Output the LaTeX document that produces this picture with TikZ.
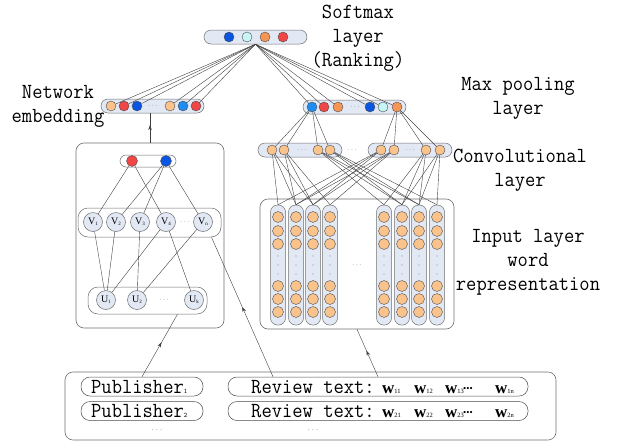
\documentclass[tikz,border=0pt]{standalone}
\usepackage{fontspec}
\setmainfont{Liberation Serif}
\newfontfamily\lab[FakeStretch=0.93]{Latin Modern Mono}
\usetikzlibrary{decorations.markings,arrows.meta}
\definecolor{barfill}{RGB}{226,233,245}
\definecolor{edgegray}{RGB}{110,110,110}
\definecolor{cblue}{RGB}{10,85,225}
\definecolor{ccyan}{RGB}{200,245,245}
\definecolor{corange}{RGB}{245,150,85}
\definecolor{cred}{RGB}{240,70,70}
\definecolor{clorange}{RGB}{250,195,140}
\definecolor{cdblue}{RGB}{30,140,240}
\newcommand\vsub[2]{#1\raisebox{-1pt}{\fontsize{5}{5}\selectfont #2}}
\newcommand\psub[1]{\raisebox{0pt}{\fontsize{7}{7}\selectfont #1}}
\newcommand\wtok[1]{{\fontsize{17}{17}\selectfont\bfseries w}{\fontsize{6.5}{6.5}\selectfont #1}}
\begin{document}
\begin{tikzpicture}[x=1pt,y=-1pt,
  xbar/.style={draw=edgegray, fill=barfill, rounded corners=7pt, minimum height=14pt, inner sep=0pt, line width=0.5pt},
  xdot/.style={circle, draw=black!70, minimum size=10pt, inner sep=0pt, line width=0.4pt},
  xv/.style={circle, draw=edgegray, fill=barfill, minimum size=19pt, inner sep=0pt, line width=0.5pt, font=\fontsize{10}{10}\selectfont},
  xbox/.style={draw=edgegray, rounded corners=8pt, line width=0.6pt, inner sep=0pt},
  xwbar/.style={draw=edgegray, fill=white, rounded corners=10pt, line width=0.5pt, inner sep=0pt},
  xcol/.style={draw=edgegray, fill=barfill, rounded corners=7pt, minimum width=15pt, minimum height=120pt, inner sep=0pt, line width=0.5pt},
  xpill/.style={draw=black!70, rounded corners=9pt, minimum height=19pt, inner sep=0pt, line width=0.5pt},
  xtiny/.style={circle, fill=black!45, minimum size=1.2pt, inner sep=0pt},
  xdots/.style={inner sep=0pt, text=black!60, font=\fontsize{7}{7}\selectfont},
  xlink/.style={draw=black!75, line width=0.4pt},
  xlbl/.style={font=\lab\fontsize{21.5}{24}\selectfont, align=center, inner sep=0pt},
  xtxt/.style={font=\lab\fontsize{21.5}{24}\selectfont, inner sep=0pt},
  midarrow/.style={decoration={markings, mark=at position #1 with {\arrow{Stealth[length=5pt,width=3.5pt]}}}, postaction={decorate}}
]
\useasboundingbox (0,0) rectangle (618,445);

% ---------- labels ----------
\node[xlbl] (lsoft) at (358,38) {Softmax\\layer\\(Ranking)};
\node[xlbl] (lnet) at (58,106) {Network\\embedding};
\node[xlbl] (lmax) at (518,98) {Max pooling\\layer};
\node[xlbl] (lconv) at (520,170) {Convolutional\\layer};
\node[xlbl] (linput) at (528,262) {Input layer\\word\\representation};

% ---------- softmax ----------
\node[xbar, minimum width=103pt] (smbar) at (255.5,37) {};
\node[xdot, fill=cblue] (s1) at (229,37) {};
\node[xdot, fill=ccyan] (s2) at (247,37) {};
\node[xdot, fill=corange] (s3) at (265,37) {};
\node[xdot, fill=cred] (s4) at (283,37) {};

% ---------- network embedding bar ----------
\node[xbar, minimum width=103pt] (emb) at (152.5,106) {};
\node[xdot, fill=clorange] (e1) at (111,106) {};
\node[xdot, fill=cred] (e2) at (124,106) {};
\node[xdot, fill=cblue] (e3) at (137,106) {};
\node[xdots] (edots) at (153,106) {$\cdots$};
\node[xdot, fill=clorange] (e4) at (170,106) {};
\node[xdot, fill=cdblue] (e5) at (183,106) {};
\node[xdot, fill=cred] (e6) at (196,106) {};

% ---------- max pooling bar ----------
\node[xbar, minimum width=103pt] (mp) at (354.5,107) {};
\node[xdot, fill=cdblue] (m1) at (312,107) {};
\node[xdot, fill=cred] (m2) at (324,107) {};
\node[xdot, fill=corange] (m3) at (338,107) {};
\node[xdots] (mdots) at (355,107) {$\cdots$};
\node[xdot, fill=cblue] (m4) at (370,107) {};
\node[xdot, fill=ccyan] (m5) at (383,107) {};
\node[xdot, fill=corange] (m6) at (397,107) {};

\foreach \n in {e1,e2,e3,e4,e5,e6,m1,m2,m3,m4,m5,m6}
  \draw[xlink] (smbar.south) -- (\n);

% ---------- convolutional bars ----------
\node[xbar, minimum width=84pt] (cvl) at (300,150) {};
\node[xdot, fill=clorange] (cl1) at (272,150) {};
\node[xdot, fill=clorange] (cl2) at (284,150) {};
\node[xdots] (cldots) at (302,150) {$\cdots$};
\node[xdot, fill=clorange] (cl3) at (318,150) {};
\node[xdot, fill=clorange] (cl4) at (330,150) {};
\node[xdots] (cvdots) at (352,150) {$\cdots$};
\node[xbar, minimum width=84pt] (cvr) at (410,150) {};
\node[xdot, fill=clorange] (cr1) at (381,150) {};
\node[xdot, fill=clorange] (cr2) at (394,150) {};
\node[xdots] (crdots) at (410,150) {$\cdots$};
\node[xdot, fill=clorange] (cr3) at (426,150) {};
\node[xdot, fill=clorange] (cr4) at (440,150) {};

\foreach \n in {cl1,cl2,cl3,cl4} \draw[xlink] (m1) -- (\n);
\foreach \n in {cr1,cr2,cr3,cr4} \draw[xlink] (m6) -- (\n);

% ---------- input layer ----------
\node[xbox, minimum width=194pt, minimum height=130pt] (inbox) at (357,264) {};
\foreach \i/\x in {1/278,2/296,3/313,4/330,5/384,6/402,7/419,8/437} {
  \node[xcol] (col\i) at (\x,265) {};
  \foreach \j/\y in {1/217,2/231,3/244,4/286,5/299,6/312}
    \node[xdot, fill=clorange, minimum size=11pt] (c\i-\j) at (\x,\y) {};
  \foreach \j/\y in {1/256,2/265,3/274}
    \node[xtiny] (cd\i-\j) at (\x,\y) {};
}
\node[xdots] (indots) at (357,265) {$\cdots$};

\foreach \a/\b in {cl1/1,cl1/2,cl1/3,cl2/2,cl2/3,cl2/4,cl3/5,cl3/6,cl3/7,cl4/6,cl4/7,cl4/8,
                   cr1/1,cr1/2,cr1/3,cr2/2,cr2/3,cr2/4,cr3/5,cr3/6,cr3/7,cr4/6,cr4/7,cr4/8}
  \draw[xlink] (\a) -- (col\b.north);

% ---------- network box ----------
\node[xbox, minimum width=148pt, minimum height=185pt] (netbox) at (150,235.5) {};
\node[xwbar, rounded corners=6pt, minimum width=56pt, minimum height=12pt] (pair) at (148,161) {};
\node[xdot, fill=cred, minimum size=11pt] (pr) at (132,161) {};
\node[xdot, fill=cblue, minimum size=11pt] (pb) at (166,161) {};

\node[xwbar, minimum width=143pt, minimum height=29pt] (vbar) at (149.5,222.5) {};
\node[xv] (v1) at (93,222) {\vsub{V}{1}};
\node[xv] (v2) at (116,222) {\vsub{V}{2}};
\node[xv] (v3) at (140,222) {\vsub{V}{3}};
\node[xv] (v4) at (166,222) {\vsub{V}{4}};
\node[xdots] (vdots) at (185,222) {$\cdots$};
\node[xv] (vn) at (203,222) {\vsub{V}{n}};

\node[xwbar, minimum width=119pt, minimum height=27pt] (ubar) at (147.5,300.5) {};
\node[xv] (u1) at (106,300) {\vsub{U}{1}};
\node[xv] (u2) at (137,300) {\vsub{U}{2}};
\node[xdots] (udots) at (164,300) {$\cdots$};
\node[xv] (uk) at (194,300) {\vsub{U}{k}};

\draw[xlink] (pr) -- (v1);
\draw[xlink] (pr) -- (v4);
\draw[xlink] (pb) -- (v2);
\draw[xlink] (pb) -- (v3);
\draw[xlink] (pb) -- (vn);
\draw[xlink] (v1) -- (u1);
\draw[xlink] (v2) -- (u1);
\draw[xlink] (v3) -- (u2);
\draw[xlink] (v4) -- (u1);
\draw[xlink] (v4) -- (uk);
\draw[xlink] (vn) -- (u2);

\draw[xlink, midarrow=0.6] (netbox.north) -- (netbox.north |- emb.south);

% ---------- bottom data box ----------
\node[xbox, minimum width=491pt, minimum height=68pt] (botbox) at (310.5,406) {};
\node[xpill, minimum width=122pt] (pub1) at (142,386.5) {};
\node[xpill, minimum width=122pt] (pub2) at (142,411) {};
\node[xpill, minimum width=300pt] (rev1) at (378,386.5) {};
\node[xpill, minimum width=300pt] (rev2) at (378,411) {};

\node[xtxt, anchor=base west] (pt1) at (91,393) {Publisher\psub{1}};
\node[xtxt, anchor=base west] (pt2) at (91,417) {Publisher\psub{2}};
\node[xdots, font=\fontsize{9}{9}\selectfont] (pdots) at (157,430) {$\cdots$};

\node[xtxt, anchor=base west] (rt1) at (251,393) {Review text:};
\node[anchor=base west, inner sep=0pt] (w11) at (382,393) {\wtok{11}};
\node[anchor=base west, inner sep=0pt] (w12) at (414,393) {\wtok{12}};
\node[anchor=base west, inner sep=0pt] (w13) at (445,393) {\wtok{13}};
\node[anchor=base west, inner sep=0pt, font=\fontsize{9}{9}\selectfont] (wd1) at (463,391) {•••};
\node[anchor=base west, inner sep=0pt] (w1n) at (495,393) {\wtok{1n}};

\node[xtxt, anchor=base west] (rt2) at (251,417) {Review text:};
\node[anchor=base west, inner sep=0pt] (w21) at (382,417) {\wtok{21}};
\node[anchor=base west, inner sep=0pt] (w22) at (414,417) {\wtok{22}};
\node[anchor=base west, inner sep=0pt] (w23) at (445,417) {\wtok{23}};
\node[anchor=base west, inner sep=0pt, font=\fontsize{9}{9}\selectfont] (wd2) at (463,415) {•••};
\node[anchor=base west, inner sep=0pt] (w2n) at (495,417) {\wtok{2n}};
\node[xdots, font=\fontsize{9}{9}\selectfont] (rdots) at (313,430) {$\cdots$};

% ---------- arrows from data ----------
\draw[xlink, midarrow=0.55] (pub1.north) -- ([xshift=30pt]ubar.south);
\draw[xlink, midarrow=0.5] ([xshift=-105pt]rev1.north) -- ([xshift=62pt]vbar.south);
\draw[xlink, midarrow=0.55] (rev1.north) -- (inbox.south);
\end{tikzpicture}
\end{document}
